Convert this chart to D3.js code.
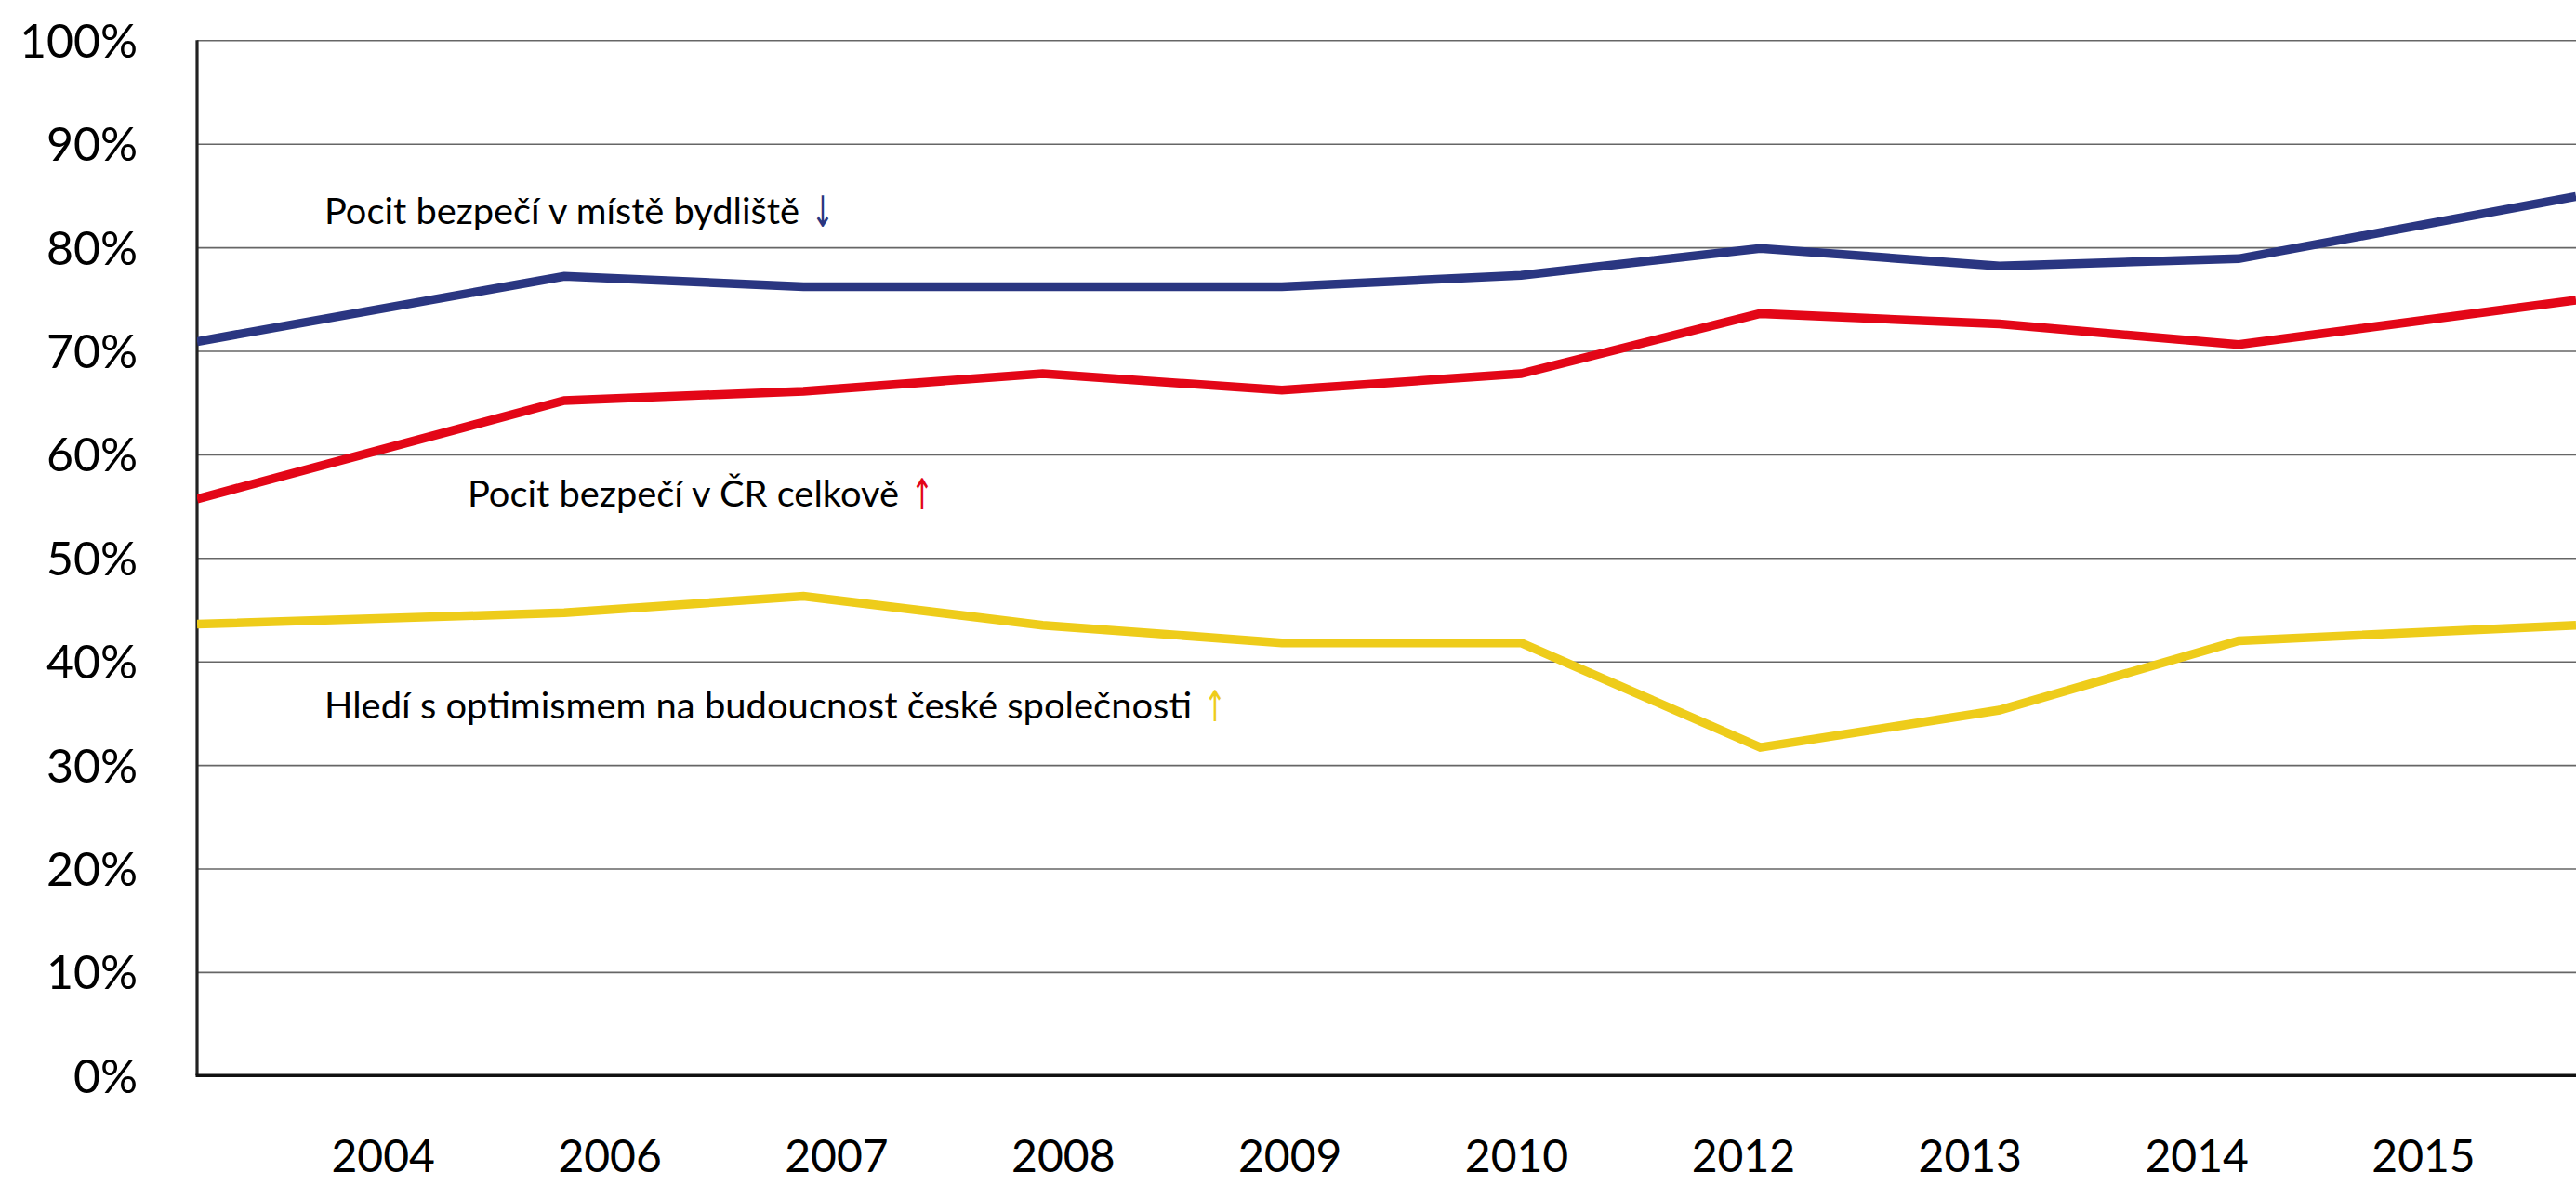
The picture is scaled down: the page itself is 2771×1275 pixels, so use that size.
<!DOCTYPE html>
<html>
<head>
<meta charset="utf-8">
<script src="https://cdn.jsdelivr.net/npm/d3@7"></script>
<style>
  html, body { margin: 0; padding: 0; background: #fff; }
  svg { display: block; }
</style>
</head>
<body>
<svg id="chart" width="2771" height="1275"></svg>
<script>
// ---- data ----
const years = ['2004','2006','2007','2008','2009','2010','2012','2013','2014','2015'];
const yTicks = [0,10,20,30,40,50,60,70,80,90,100];
const seriesNames = [
  'Pocit bezpečí v místě bydliště',
  'Pocit bezpečí v ČR celkově',
  'Hledí s optimismem na budoucnost české společnosti'
];
const seriesArrows = ['↓','↑','↑'];
const bydlisteVals = [70.9, 77.2, 76.2, 76.2, 76.2, 77.3, 79.9, 78.2, 78.9, 84.9];
const celkoveVals  = [55.7, 65.2, 66.1, 67.8, 66.2, 67.8, 73.6, 72.6, 70.6, 74.9];
const optimismVals = [43.6, 44.7, 46.3, 43.5, 41.8, 41.8, 31.7, 35.3, 42.0, 43.5];

// ---- layout ----
const W = 2771, H = 1275;
const plotLeft = 212, plotRight = 2771, plotTop = 43.3, plotBottom = 1157.3;
const colors = ['#2A3681', '#E30617', '#EECC1A'];
const svg = d3.select('#chart');
svg.append('rect').attr('width', W).attr('height', H).attr('fill', '#fff');

const y = d3.scaleLinear().domain([0, 100]).range([plotBottom, plotTop]);
// data positions (first/last points sit on plot edges, inner points evenly spaced)
const firstGap = 395, step = 257.3;
const xData = d3.scaleLinear()
  .domain([0, 1, years.length - 2, years.length - 1])
  .range([plotLeft, plotLeft + firstGap, plotLeft + firstGap + step * (years.length - 3), plotRight]);
// label positions
const xLab = d3.scalePoint().domain(years).range([411.7, 2606.5]);

// grid lines
const grid = d3.axisLeft(y).tickValues(yTicks.filter(v => v > 0))
  .tickSize(-(plotRight - plotLeft)).tickFormat('');
const gg = svg.append('g').attr('transform', `translate(${plotLeft},0)`).call(grid);
gg.select('.domain').remove();
gg.selectAll('.tick line').attr('stroke', '#666').attr('stroke-width', 1.6);

// y tick labels
const yAx = d3.axisLeft(y).tickValues(yTicks).tickSize(0).tickPadding(0).tickFormat(d => d + '%');
const ya = svg.append('g').attr('transform', 'translate(148,0)').call(yAx);
ya.select('.domain').remove();
ya.selectAll('.tick text')
  .attr('font-family', 'Lato, "Open Sans", sans-serif')
  .attr('font-size', 50).attr('fill', '#000').attr('dy', '0.36em');

// left axis line
svg.append('line').attr('x1', plotLeft).attr('x2', plotLeft)
  .attr('y1', y(100)).attr('y2', y(0)).attr('stroke', '#222').attr('stroke-width', 3.2);

// bottom axis
const xAx = d3.axisBottom(xLab).tickSize(0).tickPadding(0);
const xa = svg.append('g').attr('transform', `translate(0,${plotBottom})`).call(xAx);
xa.select('.domain').remove();
xa.selectAll('.tick text')
  .attr('font-family', 'Lato, "Open Sans", sans-serif')
  .attr('font-size', 48).attr('fill', '#000').attr('dy', 0).attr('y', 104);
svg.append('line').attr('x1', plotLeft - 1.5).attr('x2', plotRight)
  .attr('y1', y(0)).attr('y2', y(0)).attr('stroke', '#111').attr('stroke-width', 3.4);

// lines
const allSeries = [bydlisteVals, celkoveVals, optimismVals];
const line = d3.line().x((d, i) => xData(i)).y(d => y(d));
svg.append('defs').append('clipPath').attr('id', 'clip')
  .append('rect').attr('x', plotLeft).attr('y', 0).attr('width', plotRight - plotLeft).attr('height', H);
const lg = svg.append('g').attr('clip-path', 'url(#clip)');
allSeries.forEach((vals, k) => {
  lg.append('path').datum(vals).attr('d', line)
    .attr('fill', 'none').attr('stroke', colors[k]).attr('stroke-width', 9.5)
    .attr('stroke-linejoin', 'miter');
});

// series labels
const labelPos = [
  { x: 349, y: 241, len: 511 },
  { x: 503, y: 545, len: 464 },
  { x: 349, y: 773, len: 933 }
];
seriesNames.forEach((name, k) => {
  const p = labelPos[k];
  svg.append('text').attr('x', p.x).attr('y', p.y)
    .attr('font-family', 'Lato, "Open Sans", sans-serif').attr('font-size', 39)
    .attr('fill', '#000').attr('textLength', p.len).attr('lengthAdjust', 'spacingAndGlyphs')
    .text(name);
  svg.append('text').attr('x', p.x + p.len + 13).attr('y', p.y + 3)
    .attr('font-family', '"DejaVu Sans", sans-serif').attr('font-size', 46)
    .attr('fill', colors[k])
    .attr('textLength', 24).attr('lengthAdjust', 'spacingAndGlyphs')
    .text(seriesArrows[k]);
});
</script>
</body>
</html>
